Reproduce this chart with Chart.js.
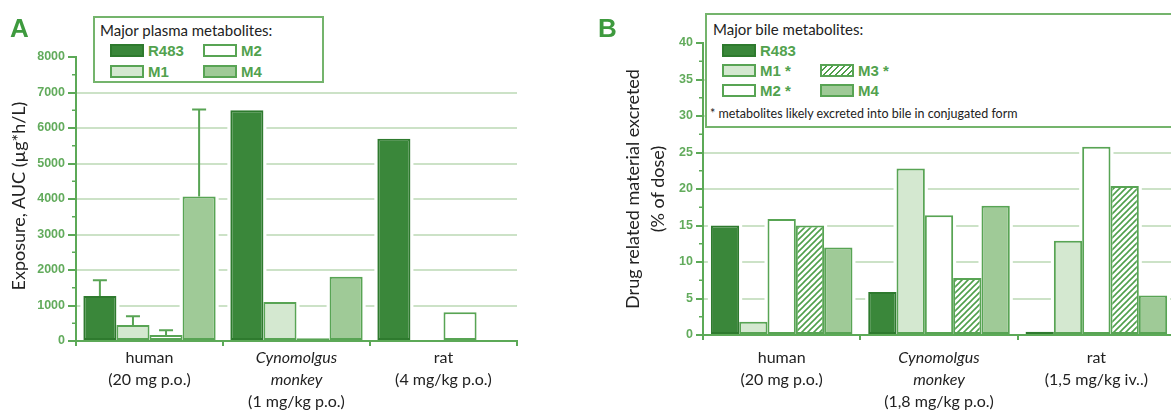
<!DOCTYPE html>
<html>
<head>
<meta charset="utf-8">
<script src="https://cdn.jsdelivr.net/npm/chart.js@4.4.1/dist/chart.umd.min.js"></script>
<style>
html, body { margin: 0; padding: 0; background: #fff; width: 1171px; height: 410px; overflow: hidden; }
body { position: relative; }
.wrap { position: absolute; top: 0; height: 410px; }
#wrapA { left: 0; width: 530px; }
#wrapB { left: 600px; width: 580px; }
.letter { position: absolute; font: bold 26px 'Liberation Sans', Arial, sans-serif; line-height: 26px; color: #3e9a3e; }
.ytitle { position: absolute; font: 18px Lato, sans-serif; line-height: 25px; color: #222; white-space: nowrap; text-align: center;
  transform: translate(-50%, -50%) rotate(-90deg); }
.legend { position: absolute; border: 2px solid #74b46c; background: #fff; box-sizing: border-box; }
.ltitle { position: absolute; font: 15px Lato, sans-serif; color: #222; white-space: nowrap; line-height: 18px; }
.lnote { position: absolute; font: 12.5px Lato, sans-serif; color: #222; white-space: nowrap; line-height: 16px; }
.sw { position: absolute; width: 34px; height: 13px; box-sizing: border-box; border: 2px solid #58a454; }
.lab { position: absolute; font: bold 15px 'Liberation Sans', Arial, sans-serif; color: #52a24e; line-height: 15px; white-space: nowrap; }
</style>
</head>
<body>
<div class="wrap" id="wrapA"><canvas id="chartA" width="530" height="410"></canvas></div>
<div class="wrap" id="wrapB"><canvas id="chartB" width="580" height="410"></canvas></div>

<div class="letter" style="left:10px; top:15px;">A</div>
<div class="letter" style="left:598px; top:15px;">B</div>
<div class="ytitle" style="left:18px; top:196px;">Exposure, AUC (µg*h/L)</div>
<div class="ytitle" style="left:645px; top:189px;">Drug related material excreted<br>(% of dose)</div>

<div class="legend" id="legA" style="left:93px; top:16px; width:231px; height:67px;"></div>
<div class="legend" id="legB" style="left:705px; top:13px; width:480px; height:115px;"></div>

<script>
// panel A: plasma exposure
const categoriesA = [['human', '(20 mg p.o.)'], ['Cynomolgus', 'monkey', '(1 mg/kg p.o.)'], ['rat', '(4 mg/kg p.o.)']];
const italicLinesA = [0, 2, 0];
const seriesA = ['R483', 'M1', 'M2', 'M4'];
const r483A = [1270, 6500, 5700];
const m1A = [450, 1100, null];
const m2A = [170, 80, 810];
const m4A = [4070, 1810, null];
const r483ErrA = [1710, null, null];
const m1ErrA = [700, null, null];
const m2ErrA = [300, null, null];
const m4ErrA = [6520, null, null];
const yMinA = 0, yMaxA = 8000, yStepA = 1000;

// panel B: bile excretion
const categoriesB = [['human', '(20 mg p.o.)'], ['Cynomolgus', 'monkey', '(1,8 mg/kg p.o.)'], ['rat', '(1,5 mg/kg iv..)']];
const italicLinesB = [0, 2, 0];
const seriesB = ['R483', 'M1 *', 'M2 *', 'M3 *', 'M4'];
const r483B = [15, 5.9, 0.45];
const m1B = [1.8, 22.8, 12.9];
const m2B = [15.9, 16.4, 25.8];
const m3B = [15, 7.8, 20.4];
const m4B = [12, 17.7, 5.4];
const yMinB = 0, yMaxB = 40, yStepB = 5;
const noteB = '* metabolites likely excreted into bile in conjugated form';

var green = '#58a454';
var axisGreen = '#5ca957';
var tickGreen = '#62ab5c';
var gridGreen = '#cce2c7';

function makeHatch(color) {
    var c = document.createElement('canvas');
    c.width = 6; c.height = 6;
    var g = c.getContext('2d');
    g.fillStyle = '#fff';
    g.fillRect(0, 0, 6, 6);
    g.strokeStyle = color;
    g.lineWidth = 1.6;
    g.beginPath();
    g.moveTo(-1, 7); g.lineTo(7, -1);
    g.moveTo(-1, 1); g.lineTo(1, -1);
    g.moveTo(5, 7); g.lineTo(7, 5);
    g.stroke();
    return g.createPattern(c, 'repeat');
}

var styles = {
    'R483': { fill: '#3a873a', border: '#2e7a2e', css: '#3a873a' },
    'M1': { fill: '#d4e8d0', border: green, css: '#d4e8d0' },
    'M2': { fill: '#ffffff', border: green, css: '#ffffff' },
    'M3': { fill: makeHatch('#4f9f4b'), border: green,
            css: 'repeating-linear-gradient(-45deg, #fff 0px, #fff 2.5px, #4f9f4b 2.5px, #4f9f4b 4.2px)' },
    'M4': { fill: '#9fca97', border: green, css: '#9fca97' }
};
function styleOf(name) { return styles[name.split(' ')[0]]; }

// white gap around bars so grid lines stop short of them
var barHalo = {
    id: 'barHalo',
    beforeDatasetsDraw: function(chart) {
        var ctx = chart.ctx;
        ctx.save();
        ctx.fillStyle = '#fff';
        chart.data.datasets.forEach(function(ds, d) {
            chart.getDatasetMeta(d).data.forEach(function(el, i) {
                if (ds.data[i] == null) return;
                ctx.fillRect(el.x - el.width / 2 - 3, el.y - 3, el.width + 6, el.base - el.y + 2);
            });
        });
        ctx.restore();
    }
};

var minorTicks = {
    id: 'minorTicks',
    afterDraw: function(chart) {
        var ys = chart.scales.y, ctx = chart.ctx;
        var ticks = ys.ticks;
        ctx.save();
        ctx.strokeStyle = axisGreen;
        ctx.lineWidth = 1.5;
        for (var i = 0; i < ticks.length - 1; i++) {
            var y = ys.getPixelForValue((ticks[i].value + ticks[i + 1].value) / 2);
            ctx.beginPath();
            ctx.moveTo(ys.right - 4, y);
            ctx.lineTo(ys.right, y);
            ctx.stroke();
        }
        ctx.restore();
    }
};

var xLabels = {
    id: 'xLabels',
    afterDraw: function(chart, args, opts) {
        var ctx = chart.ctx, xs = chart.scales.x;
        ctx.save();
        ctx.fillStyle = '#222';
        ctx.textAlign = 'center';
        ctx.textBaseline = 'middle';
        opts.lines.forEach(function(lines, i) {
            var x = xs.getPixelForValue(i);
            lines.forEach(function(t, j) {
                ctx.font = (j < opts.italic[i] ? 'italic ' : '') + '16px Lato';
                ctx.fillText(t, x, opts.top + j * opts.gap);
            });
        });
        ctx.restore();
    }
};

var errorBars = {
    id: 'errorBars',
    afterDatasetsDraw: function(chart, args, opts) {
        if (!opts.errors) return;
        var ctx = chart.ctx, ys = chart.scales.y;
        ctx.save();
        ctx.strokeStyle = green;
        ctx.lineWidth = 2;
        opts.errors.forEach(function(errs, d) {
            var meta = chart.getDatasetMeta(d);
            errs.forEach(function(v, i) {
                if (v == null) return;
                var el = meta.data[i];
                var yv = ys.getPixelForValue(v);
                ctx.beginPath();
                ctx.moveTo(el.x, el.y);
                ctx.lineTo(el.x, yv);
                ctx.moveTo(el.x - 7, yv);
                ctx.lineTo(el.x + 7, yv);
                ctx.stroke();
            });
        });
        ctx.restore();
    }
};

function makeDatasets(names, values) {
    return names.map(function(n, k) {
        var s = styleOf(n);
        return {
            label: n,
            data: values[k],
            backgroundColor: s.fill,
            borderColor: s.border,
            borderWidth: 2,
            borderSkipped: false
        };
    });
}

function createChart(canvasId, cfg) {
    var ctx = document.getElementById(canvasId);
    return new Chart(ctx, {
        type: 'bar',
        data: {
            labels: cfg.categories.map(function(c) { return c.join(' '); }),
            datasets: makeDatasets(cfg.series, cfg.values)
        },
        options: {
            responsive: false,
            devicePixelRatio: 1,
            animation: false,
            layout: { padding: { top: cfg.top, right: cfg.right, bottom: 0, left: 0 } },
            datasets: { bar: { categoryPercentage: 0.9, barPercentage: 1.0 } },
            scales: {
                x: {
                    grid: { offset: true, drawOnChartArea: false, color: axisGreen, tickColor: axisGreen, tickLength: 5, tickWidth: 2, lineWidth: 2 },
                    border: { color: axisGreen, width: 2 },
                    ticks: { display: false },
                    afterFit: function(s) { s.height = 410 - cfg.bottom; }
                },
                y: {
                    min: cfg.min, max: cfg.max,
                    grid: {
                        color: function(c) {
                            if (c.tick && (c.tick.value === cfg.min || c.tick.value === cfg.max)) return 'rgba(0,0,0,0)';
                            return gridGreen;
                        },
                        lineWidth: 2,
                        tickColor: axisGreen,
                        tickLength: cfg.tickLen,
                        tickWidth: 2
                    },
                    border: { color: axisGreen, width: 2 },
                    ticks: {
                        stepSize: cfg.step,
                        color: tickGreen,
                        padding: 3,
                        font: { family: 'Liberation Sans', weight: 'bold', size: 12.5 },
                        callback: function(v) { return String(v); }
                    },
                    afterFit: function(s) { s.width = cfg.axisX; }
                }
            },
            plugins: {
                legend: { display: false },
                tooltip: { enabled: false },
                xLabels: { lines: cfg.categories, italic: cfg.italic, top: 358, gap: 22 },
                errorBars: { errors: cfg.errors }
            }
        },
        plugins: [barHalo, minorTicks, xLabels, errorBars]
    });
}

function buildLegend(boxId, title, items, note) {
    var box = document.getElementById(boxId);
    var t = document.createElement('div');
    t.className = 'ltitle';
    t.style.left = title.x + 'px';
    t.style.top = title.y + 'px';
    t.textContent = title.text;
    box.appendChild(t);
    items.forEach(function(it) {
        var s = styleOf(it.name);
        var sw = document.createElement('div');
        sw.className = 'sw';
        sw.style.left = it.x + 'px';
        sw.style.top = it.y + 'px';
        sw.style.background = s.css;
        sw.style.borderColor = s.border;
        box.appendChild(sw);
        var lab = document.createElement('div');
        lab.className = 'lab';
        lab.style.left = (it.x + 38) + 'px';
        lab.style.top = (it.y - 1) + 'px';
        lab.textContent = it.name;
        box.appendChild(lab);
    });
    if (note) {
        var n = document.createElement('div');
        n.className = 'lnote';
        n.style.left = note.x + 'px';
        n.style.top = note.y + 'px';
        n.textContent = note.text;
        box.appendChild(n);
    }
}

createChart('chartA', {
    categories: categoriesA, italic: italicLinesA, series: seriesA,
    values: [r483A, m1A, m2A, m4A],
    errors: [r483ErrA, m1ErrA, m2ErrA, m4ErrA],
    min: yMinA, max: yMaxA, step: yStepA,
    top: 57, bottom: 341, right: 13, axisX: 76, tickLen: 8
});

createChart('chartB', {
    categories: categoriesB, italic: italicLinesB, series: seriesB,
    values: [r483B, m1B, m2B, m3B, m4B],
    errors: null,
    min: yMinB, max: yMaxB, step: yStepB,
    top: 43, bottom: 335, right: 5, axisX: 103, tickLen: 7
});

// legend boxes (coords relative to box, border 2px)
buildLegend('legA', { text: 'Major plasma metabolites:', x: 5, y: 3 }, [
    { name: seriesA[0], x: 15, y: 26 },
    { name: seriesA[2], x: 108, y: 26 },
    { name: seriesA[1], x: 15, y: 47 },
    { name: seriesA[3], x: 108, y: 47 }
]);
buildLegend('legB', { text: 'Major bile metabolites:', x: 6, y: 5 }, [
    { name: seriesB[0], x: 15, y: 29 },
    { name: seriesB[1], x: 15, y: 49 },
    { name: seriesB[3], x: 113, y: 49 },
    { name: seriesB[2], x: 15, y: 69 },
    { name: seriesB[4], x: 113, y: 69 }
], { text: noteB, x: 3, y: 91 });
</script>
</body>
</html>
